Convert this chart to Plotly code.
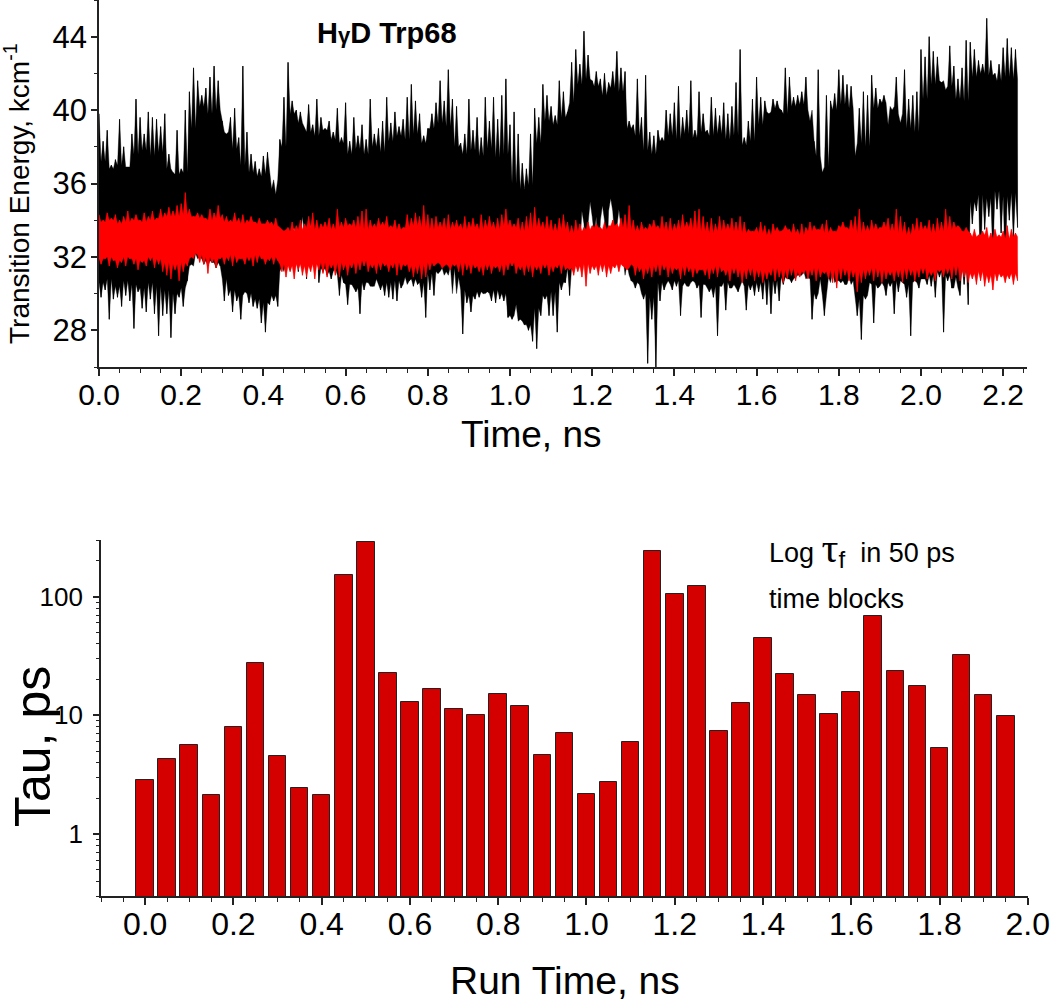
import math
import plotly.graph_objects as go

W, H = 1050, 1004
FONT = "Liberation Sans, Arial, sans-serif"

# ---------------- top panel: transition energy traces
# extremes read per 0.01 ns bin
BIN_NS = 0.01
black_hi = [
    39.8, 38.3, 38.9, 37.0, 37.3, 39.5, 38.0, 36.9, 38.7, 40.6,
    39.6, 38.7, 39.9, 39.6, 39.5, 39.1, 39.8, 37.6, 36.6, 38.9,
    36.8, 40.0, 41.0, 42.3, 41.6, 40.8, 41.2, 41.8, 42.4, 41.6,
    39.4, 38.7, 39.6, 40.1, 38.5, 42.4, 38.8, 37.6, 37.2, 36.8,
    37.5, 37.7, 35.7, 35.4, 38.4, 40.7, 42.6, 40.5, 40.0, 39.9,
    39.0, 40.3, 39.2, 40.6, 39.6, 39.0, 39.4, 38.8, 40.1, 38.5,
    40.4, 38.3, 39.6, 38.6, 39.2, 38.4, 40.6, 38.7, 39.0, 39.4,
    40.7, 39.3, 39.9, 39.1, 39.5, 40.7, 41.4, 40.5, 39.8, 38.6,
    39.0, 39.8, 40.4, 41.6, 40.5, 42.2, 40.6, 40.2, 38.2, 38.7,
    40.6, 38.9, 39.6, 38.5, 40.7, 39.4, 40.7, 39.5, 40.8, 41.7,
    39.2, 39.9, 38.7, 37.1, 36.8, 38.7, 40.1, 39.6, 41.4, 40.8,
    40.2, 39.7, 41.6, 41.0, 39.9, 42.6, 43.3, 42.5, 44.3, 43.0,
    41.6, 42.1, 41.7, 42.0, 41.5, 42.1, 43.2, 42.3, 42.1, 39.4,
    39.2, 41.7, 39.6, 41.9, 38.8, 38.6, 38.9, 38.5, 40.0, 39.8,
    40.4, 41.3, 39.6, 40.0, 41.6, 38.9, 41.0, 39.8, 38.9, 40.7,
    40.1, 39.7, 40.4, 39.8, 40.2, 41.5, 43.3, 38.5, 39.4, 40.6,
    41.8, 40.7, 40.5, 39.8, 40.6, 40.5, 40.0, 42.3, 41.8, 40.7,
    40.8, 41.0, 41.8, 39.4, 38.3, 42.2, 36.6, 40.8, 40.5, 40.9,
    42.2, 41.9, 41.4, 41.3, 37.5, 40.1, 41.0, 40.8, 41.9, 41.2,
    40.6, 40.8, 39.2, 40.0, 41.8, 39.3, 42.2, 40.6, 40.8, 41.0,
    43.3, 42.9, 44.0, 43.2, 42.9, 41.5, 41.1, 43.5, 42.4, 41.7,
    42.3, 43.8, 43.7, 43.3, 42.7, 42.5, 45.0, 42.7, 42.0, 42.5,
    43.4, 43.9, 43.4, 43.3,
]
black_lo = [
    29.8, 30.2, 28.6, 29.7, 29.8, 29.3, 29.9, 29.6, 28.1, 30.1,
    29.2, 29.0, 29.7, 28.9, 27.7, 28.8, 28.9, 27.6, 28.9, 29.8,
    29.3, 30.7, 31.6, 32.2, 32.0, 31.6, 31.5, 31.7, 31.4, 31.5,
    29.6, 29.9, 29.0, 29.6, 28.6, 30.1, 29.5, 29.3, 29.2, 28.4,
    27.9, 29.4, 29.6, 29.3, 31.5, 31.7, 31.3, 33.6, 31.2, 34.2,
    30.8, 33.8, 31.6, 30.6, 31.2, 31.0, 30.8, 31.4, 29.9, 30.6,
    29.4, 30.5, 30.1, 28.9, 30.2, 30.6, 30.4, 30.8, 30.2, 29.9,
    29.8, 29.7, 29.6, 30.3, 30.9, 30.7, 30.4, 30.5, 29.8, 28.7,
    30.2, 29.9, 31.1, 31.4, 31.2, 31.5, 31.4, 30.9, 27.8, 29.5,
    29.0, 29.7, 29.8, 30.0, 30.1, 29.6, 29.5, 29.7, 29.6, 28.7,
    28.6, 29.4, 28.6, 28.3, 28.0, 27.4, 27.0, 28.8, 29.7, 28.8,
    28.8, 27.9, 30.2, 30.6, 29.9, 31.2, 31.5, 34.5, 31.6, 35.0,
    33.2, 31.5, 34.8, 31.3, 35.2, 33.0, 34.6, 32.0, 31.6, 30.7,
    30.3, 30.5, 29.7, 26.2, 28.6, 26.0, 29.6, 30.2, 30.7, 30.2,
    30.4, 28.8, 30.6, 30.4, 30.7, 30.3, 28.7, 30.5, 30.1, 29.8,
    27.7, 30.4, 29.1, 30.3, 30.5, 30.1, 30.7, 29.1, 30.2, 29.9,
    30.1, 29.7, 29.4, 28.9, 30.0, 29.6, 30.5, 30.8, 30.6, 30.9,
    31.0, 31.2, 30.9, 28.6, 29.7, 30.8, 28.8, 30.9, 31.2, 30.7,
    30.6, 30.5, 30.9, 30.7, 28.8, 27.5, 29.7, 30.6, 28.4, 30.3,
    30.6, 29.9, 30.4, 28.9, 30.1, 30.6, 29.8, 27.7, 30.7, 30.3,
    30.8, 30.5, 30.4, 29.8, 30.9, 27.9, 30.7, 30.3, 30.9, 29.9,
    30.5, 29.4, 33.8, 34.5, 31.1, 33.5, 34.2, 32.0, 34.6, 33.3,
    31.5, 34.0, 33.0, 33.6,
]
red_hi = [
    34.3, 34.0, 34.4, 34.1, 34.3, 34.0, 34.2, 34.5, 34.1, 34.3,
    34.0, 34.4, 34.2, 34.5, 34.1, 34.6, 34.4, 34.7, 34.5, 34.8,
    34.9, 35.5, 34.6, 34.2, 34.4, 34.3, 34.1, 34.6, 34.4, 34.8,
    34.3, 34.2, 34.0, 34.4, 34.1, 34.3, 34.0, 34.2, 33.9, 34.1,
    33.8, 34.0, 33.9, 34.1, 33.6, 33.4, 33.6, 33.9, 33.7, 34.0,
    33.8, 34.2, 34.4, 34.0, 33.8, 33.9, 34.1, 33.8, 34.6, 33.9,
    34.1, 33.8, 34.0, 34.2, 34.5, 34.6, 34.0, 33.8, 34.1, 33.9,
    34.2, 33.7, 34.0, 33.8, 33.6, 34.3, 34.1, 34.4, 34.2, 34.8,
    34.3, 34.1, 34.2, 33.9, 34.1, 34.3, 33.9, 34.0, 33.8, 34.2,
    33.9, 34.1, 33.8, 34.3, 34.0, 34.2, 33.9, 34.1, 34.3, 34.6,
    34.0, 33.8, 34.1, 33.9, 34.2, 34.4, 34.7, 34.1, 33.9, 34.2,
    34.0, 33.8, 34.1, 34.3, 33.9, 33.7, 34.0, 33.8, 33.6, 33.9,
    33.7, 33.8, 33.6, 33.9, 33.7, 34.0, 33.8, 34.1, 34.3, 34.8,
    34.0, 33.7, 33.9, 33.6, 33.8, 34.0, 33.7, 34.2, 33.9, 34.1,
    33.8, 34.0, 34.3, 33.9, 34.1, 34.5, 34.6, 34.2, 33.9, 34.1,
    33.8, 34.2, 34.0, 33.8, 34.1, 33.9, 34.2, 33.9, 33.5, 33.4,
    33.6, 33.9, 33.7, 33.5, 33.8, 33.6, 33.4, 33.7, 33.5, 33.8,
    33.5, 33.8, 33.6, 33.9, 33.7, 33.5, 33.8, 34.0, 33.6, 33.4,
    33.7, 33.9, 33.6, 34.0, 34.2, 34.6, 33.9, 33.7, 34.0, 33.8,
    33.6, 33.9, 34.1, 33.8, 34.6, 34.2, 33.9, 33.6, 33.8, 34.1,
    33.9, 33.7, 34.0, 33.8, 34.1, 33.9, 34.6, 34.2, 33.9, 33.7,
    33.4, 33.6, 33.3, 33.5, 33.2, 33.4, 33.6, 33.3, 33.5, 33.2,
    33.4, 33.7, 33.5, 33.3,
]
red_lo = [
    31.6, 31.9, 31.5, 31.8, 31.4, 31.7, 31.5, 31.9, 31.6, 31.3,
    31.7, 31.5, 31.8, 31.4, 31.6, 31.2, 31.0, 30.8, 31.3, 30.7,
    31.2, 31.5, 32.0, 32.2, 31.7, 31.6, 31.1, 31.7, 31.4, 31.9,
    31.6, 31.8, 31.5, 31.7, 31.9, 31.6, 31.8, 31.5, 31.7, 31.9,
    31.6, 31.8, 31.6, 31.8, 31.2, 30.9, 31.2, 30.8, 31.3, 31.0,
    30.9, 31.2, 30.8, 31.3, 31.1, 30.9, 31.4, 31.0, 30.9, 31.3,
    31.0, 31.4, 31.1, 31.3, 31.5, 31.2, 31.4, 31.1, 31.3, 31.5,
    31.2, 31.4, 31.0, 31.3, 31.5, 31.2, 30.9, 31.1, 30.8, 30.9,
    31.3, 31.5, 31.7, 31.4, 31.6, 31.3, 31.5, 31.2, 31.0, 31.3,
    31.1, 31.4, 31.2, 31.0, 31.3, 31.1, 31.4, 31.2, 31.0, 31.3,
    31.5, 31.1, 31.3, 31.0, 31.2, 30.9, 31.3, 31.1, 31.4, 31.0,
    31.2, 31.4, 31.1, 31.3, 31.3, 31.0, 31.2, 30.9, 30.4, 31.1,
    31.3, 31.0, 31.2, 30.9, 31.1, 31.4, 31.2, 31.5, 31.3, 31.6,
    31.0, 31.2, 30.8, 31.1, 30.9, 31.2, 31.0, 31.3, 30.9, 31.1,
    31.3, 30.8, 31.0, 31.2, 30.9, 31.1, 31.3, 31.0, 30.8, 31.1,
    30.9, 31.2, 31.0, 30.7, 31.1, 30.9, 30.6, 30.8, 31.0, 30.7,
    30.9, 30.6, 30.8, 31.0, 30.7, 30.9, 30.6, 30.8, 31.0, 30.7,
    30.9, 31.1, 30.8, 31.0, 30.7, 30.9, 31.1, 30.8, 30.6, 30.3,
    30.8, 31.0, 30.7, 30.9, 30.1, 30.6, 30.8, 31.0, 30.7, 30.9,
    30.6, 30.8, 31.0, 30.7, 30.9, 30.6, 30.8, 31.0, 30.7, 30.9,
    31.1, 30.8, 31.0, 30.7, 31.2, 30.9, 31.1, 30.8, 31.0, 30.7,
    30.9, 30.6, 30.8, 30.5, 30.7, 30.4, 30.6, 30.2, 30.7, 30.9,
    30.6, 30.8, 30.5, 30.7,
]

# dense core of each trace, read per 0.02 ns
CORE_NS = 0.02
black_core_hi = [
    37.2, 36.8, 37.0, 36.9, 37.6, 37.8, 37.5, 37.7, 36.8, 36.5,
    36.6, 39.0, 40.2, 39.8, 40.0, 38.8, 37.9, 37.0, 36.6, 36.4,
    36.5, 36.2, 38.0, 39.8, 39.3, 38.8, 38.6, 38.9, 38.4, 38.2,
    37.6, 37.9, 37.6, 38.0, 37.7, 38.3, 38.6, 38.4, 38.7, 38.2,
    39.0, 39.3, 39.1, 38.0, 37.6, 37.8, 37.5, 37.9, 37.4, 37.6,
    36.0, 35.7, 35.9, 38.2, 39.4, 39.2, 39.6, 40.4, 41.4, 41.7,
    41.3, 40.8, 41.2, 41.0, 39.0, 38.6, 37.8, 37.6, 38.3, 38.6,
    38.4, 38.7, 38.5, 38.8, 38.6, 38.7, 38.4, 38.6, 38.1, 38.3,
    39.2, 39.9, 40.1, 39.8, 40.2, 40.3, 40.0, 37.5, 36.9, 40.0,
    40.3, 40.1, 38.2, 38.0, 40.1, 40.4, 40.2, 39.8, 39.0, 38.8,
    40.6, 41.4, 41.6, 41.3, 40.6, 40.5, 41.8, 42.0, 41.9, 41.6,
    41.8, 41.7,
]
black_core_lo = [
    30.6, 30.8, 30.4, 30.7, 30.5, 30.3, 30.6, 30.4, 30.2, 30.0,
    30.3, 31.5, 31.9, 31.8, 31.7, 30.8, 30.2, 29.9, 30.0, 29.7,
    29.5, 29.9, 31.2, 33.4, 33.0, 33.2, 32.6, 31.4, 31.2, 31.0,
    30.5, 30.3, 30.6, 30.4, 30.5, 30.6, 30.7, 30.5, 30.8, 30.6,
    31.1, 31.2, 31.0, 30.0, 30.2, 29.9, 30.1, 30.0, 30.2, 30.0,
    28.8, 28.5, 28.3, 29.2, 29.9, 30.1, 30.6, 31.4, 32.5, 33.8,
    34.2, 34.0, 34.5, 33.6, 31.0, 30.6, 30.0, 29.8, 30.6, 30.5,
    30.7, 30.4, 30.6, 30.5, 30.3, 30.4, 30.6, 30.3, 30.4, 30.5,
    30.6, 30.8, 30.7, 30.9, 30.8, 31.0, 30.8, 30.0, 29.9, 30.6,
    30.7, 30.5, 29.7, 29.9, 30.5, 30.4, 30.6, 30.7, 30.5, 30.6,
    30.8, 31.0, 31.2, 31.0, 30.3, 31.5, 35.0, 35.4, 35.2, 35.6,
    35.3, 35.5,
]
red_core_hi = [
    33.9, 34.0, 33.8, 33.9, 34.0, 33.9, 34.0, 34.1, 34.2, 34.2,
    34.3, 34.2, 34.1, 34.0, 34.1, 33.9, 33.9, 33.8, 33.9, 33.8,
    33.8, 33.7, 33.5, 33.4, 33.5, 33.6, 33.5, 33.6, 33.5, 33.6,
    33.7, 33.6, 33.5, 33.6, 33.7, 33.6, 33.5, 33.6, 33.7, 33.6,
    33.5, 33.6, 33.5, 33.6, 33.5, 33.6, 33.5, 33.6, 33.5, 33.7,
    33.6, 33.4, 33.5, 33.6, 33.5, 33.4, 33.5, 33.3, 33.4, 33.5,
    33.6, 33.5, 33.7, 33.6, 33.5, 33.4, 33.5, 33.6, 33.5, 33.4,
    33.5, 33.6, 33.5, 33.4, 33.3, 33.4, 33.5, 33.4, 33.3, 33.4,
    33.3, 33.2, 33.4, 33.5, 33.3, 33.2, 33.4, 33.5, 33.3, 33.4,
    33.6, 33.5, 33.3, 33.4, 33.5, 33.6, 33.4, 33.3, 33.2, 33.4,
    33.5, 33.3, 33.4, 33.5, 33.6, 33.4, 33.1, 33.2, 33.0, 33.1,
    33.0, 33.1,
]
red_core_lo = [
    31.9, 32.0, 31.8, 32.0, 31.9, 31.8, 32.0, 31.9, 31.7, 31.6,
    31.7, 31.9, 32.1, 32.0, 31.9, 32.0, 32.1, 31.9, 32.0, 32.1,
    31.9, 32.0, 31.6, 31.5, 31.6, 31.5, 31.6, 31.7, 31.6, 31.7,
    31.6, 31.7, 31.8, 31.6, 31.7, 31.6, 31.7, 31.6, 31.5, 31.6,
    31.7, 31.6, 31.5, 31.6, 31.7, 31.6, 31.5, 31.6, 31.5, 31.6,
    31.7, 31.5, 31.6, 31.5, 31.6, 31.5, 31.6, 31.4, 31.5, 31.6,
    31.5, 31.6, 31.5, 31.6, 31.4, 31.5, 31.4, 31.5, 31.6, 31.5,
    31.4, 31.5, 31.4, 31.3, 31.4, 31.5, 31.3, 31.4, 31.3, 31.4,
    31.3, 31.2, 31.4, 31.3, 31.4, 31.2, 31.3, 31.4, 31.2, 31.3,
    31.4, 31.3, 31.2, 31.3, 31.4, 31.3, 31.2, 31.3, 31.4, 31.3,
    31.4, 31.2, 31.3, 31.4, 31.5, 31.3, 31.1, 31.2, 31.0, 31.1,
    31.0, 31.1,
]

# ---------------- bottom panel: tau per 50 ps block
block_start_ns = [0.00, 0.05, 0.10, 0.15, 0.20, 0.25, 0.30, 0.35, 0.40, 0.45,
                  0.50, 0.55, 0.60, 0.65, 0.70, 0.75, 0.80, 0.85, 0.90, 0.95,
                  1.00, 1.05, 1.10, 1.15, 1.20, 1.25, 1.30, 1.35, 1.40, 1.45,
                  1.50, 1.55, 1.60, 1.65, 1.70, 1.75, 1.80, 1.85, 1.90, 1.95]
tau_ps = [2.83, 4.26, 5.65, 2.12, 7.97, 27.6, 4.51, 2.45, 2.12, 153,
          288, 22.7, 13.0, 16.6, 11.2, 10.0, 15.2, 12.0, 4.66, 7.05,
          2.16, 2.73, 5.92, 244, 105, 124, 7.42, 12.7, 44.8, 22.4,
          14.8, 10.2, 15.8, 68.7, 23.6, 17.7, 5.33, 32.4, 14.8, 9.8]

top_xticks = [0.0, 0.2, 0.4, 0.6, 0.8, 1.0, 1.2, 1.4, 1.6, 1.8, 2.0, 2.2]
top_yticks = [28, 32, 36, 40, 44]
bot_xticks = [0.0, 0.2, 0.4, 0.6, 0.8, 1.0, 1.2, 1.4, 1.6, 1.8, 2.0]
bot_yticks = [1, 10, 100]

for arr in (black_hi, black_lo, red_hi, red_lo):
    assert len(arr) == 224, len(arr)
for arr in (black_core_hi, black_core_lo, red_core_hi, red_core_lo):
    assert len(arr) == 112, len(arr)

t = [round(i * BIN_NS, 4) for i in range(len(black_hi))]
HALF = BIN_NS / 2
STEP = int(round(CORE_NS / BIN_NS))


def spiky_band(hi, lo, chi, clo):
    """Polygon: extremes as spike tips, per-bin core level as the valleys."""
    up_x, up_y, dn_x, dn_y = [], [], [], []
    for i, ti in enumerate(t):
        k = min(i // STEP, len(chi) - 1)
        up_x += [ti, ti + HALF]
        up_y += [hi[i], chi[k]]
        dn_x += [ti, ti + HALF]
        dn_y += [clo[k], lo[i]]
    return up_x + dn_x[::-1], up_y + dn_y[::-1]


def zigzag(hi, lo):
    xs, ys = [], []
    for ti, h, l in zip(t, hi, lo):
        xs += [ti, ti + HALF]
        ys += [h, l]
    return xs, ys


fig = go.Figure()
for (chi, clo, hi, lo, col, lw) in [
        (black_core_hi, black_core_lo, black_hi, black_lo, "#000000", 0.7),
        (red_core_hi, red_core_lo, red_hi, red_lo, "#ff0000", 0.7)]:
    px_, py_ = spiky_band(hi, lo, chi, clo)
    fig.add_trace(go.Scatter(x=px_, y=py_, mode="lines", fill="toself", fillcolor=col,
                             line=dict(color=col, width=0.4), xaxis="x", yaxis="y",
                             showlegend=False, hoverinfo="skip"))
    zx, zy = zigzag(hi, lo)
    fig.add_trace(go.Scatter(x=zx, y=zy, mode="lines", line=dict(color=col, width=lw),
                             xaxis="x", yaxis="y", showlegend=False, hoverinfo="skip"))

fig.add_trace(go.Bar(x=block_start_ns, y=tau_ps, width=0.04,
                     marker=dict(color="#d40000", line=dict(color="#222222", width=1)),
                     xaxis="x2", yaxis="y2", showlegend=False))

AX = dict(showline=True, linecolor="#222222", linewidth=1.6, ticks="outside",
          tickcolor="#222222", tickwidth=1.5, showgrid=False, zeroline=False,
          mirror=False, automargin=False, ticklabeloverflow="allow")

log_minor = [0.3, 0.4, 0.5, 0.6, 0.7, 0.8, 0.9] + [2, 3, 4, 5, 6, 7, 8, 9] + \
            [20, 30, 40, 50, 60, 70, 80, 90] + [200, 300]

fig.update_layout(
    width=W, height=H, margin=dict(l=0, r=0, t=0, b=0, autoexpand=False),
    paper_bgcolor="white", plot_bgcolor="white",
    font=dict(family=FONT, color="black"),
    bargap=0,
    xaxis=dict(domain=[99 / W, 1027 / W], range=[0, 2.258], anchor="y",
               tickvals=top_xticks, ticktext=[f"{v:.1f}" for v in top_xticks],
               ticklen=7, tickfont=dict(size=30), ticklabelstandoff=-7,
               minor=dict(dtick=0.05, tick0=0, ticks="outside", ticklen=4,
                          tickcolor="#222222", tickwidth=1.3), **AX),
    yaxis=dict(domain=[1 - 367 / H, 1], range=[26, 46], anchor="x",
               tickvals=top_yticks, ticktext=[str(v) for v in top_yticks],
               ticklen=6, tickfont=dict(size=31), ticklabelstandoff=-2,
               minor=dict(dtick=2, tick0=26, ticks="outside", ticklen=3,
                          tickcolor="#222222", tickwidth=1.3), **AX),
    xaxis2=dict(domain=[101 / W, 1028 / W], range=[-0.1, 2.0005], anchor="y2",
                tickvals=bot_xticks, ticktext=[f"{v:.1f}" for v in bot_xticks],
                ticklen=7, tickfont=dict(size=32), ticklabelstandoff=-8,
                minor=dict(dtick=0.05, tick0=0, ticks="outside", ticklen=4,
                           tickcolor="#222222", tickwidth=1.3), **AX),
    yaxis2=dict(domain=[1 - 896 / H, 1 - 540 / H], type="log",
                range=[math.log10(0.3), math.log10(300)], anchor="x2",
                tickvals=bot_yticks, ticktext=[str(v) for v in bot_yticks],
                ticklen=6, tickfont=dict(size=26), ticklabelstandoff=5,
                minor=dict(tickmode="array", tickvals=log_minor, ticks="outside",
                           ticklen=3, tickcolor="#222222", tickwidth=1.2), **AX),
)

NB = "\u00a0"
ann = [
    dict(text="<b>H<span style='font-size:22px'>γ</span>D Trp68</b>", x=387 / W, y=1 - 33 / H,
         font=dict(size=29)),
    dict(text="Transition Energy, kcm<sup>-1</sup>", x=17 / W, y=1 - 194 / H,
         textangle=-90, font=dict(size=28)),
    dict(text="Time, ns", x=531 / W, y=1 - 434 / H, font=dict(size=37)),
    dict(text="Tau, ps", x=33 / W, y=1 - 747 / H, textangle=-90, font=dict(size=50)),
    dict(text="Run Time, ns", x=565 / W, y=1 - 980 / H, font=dict(size=39)),
    dict(text="Log" + NB + "<span style='font-family:Liberation Serif;font-size:42px'>τ</span>"
              "<sub><span style='font-size:24px'>f</span></sub>" + NB + " in 50 ps",
         x=767 / W, y=1 - 549 / H, xanchor="left", font=dict(size=27)),
    dict(text="time blocks", x=767 / W, y=1 - 599 / H, xanchor="left", font=dict(size=27)),
]
for a in ann:
    a.setdefault("xanchor", "center")
    fig.add_annotation(xref="paper", yref="paper", showarrow=False, yanchor="middle", **a)

# the page's default 8 px body margin would shift the figure; remove it
fig.write_html("out.html", config={"displayModeBar": False},
               post_script="document.body.style.margin='0';")
